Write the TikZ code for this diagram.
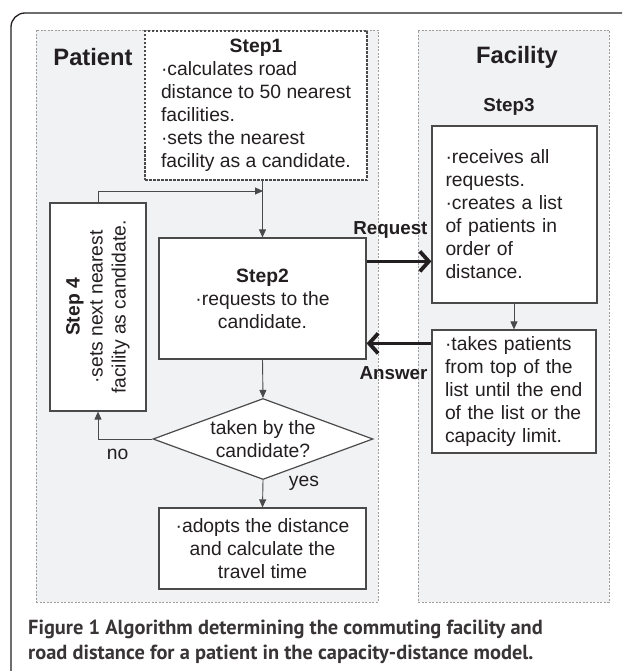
\documentclass[tikz,border=0pt]{standalone}
\usepackage{fontspec}
\usepackage{graphicx}
\setmainfont{Liberation Sans}
\newfontfamily\capfont{PT Sans}
\usetikzlibrary{shapes.geometric}
\usetikzlibrary{arrows.meta}

\definecolor{lanegray}{HTML}{F1F2F4}
\definecolor{laneline}{HTML}{9C9C9C}
\definecolor{boxline}{HTML}{4A4A4A}
\definecolor{ink}{HTML}{231F20}

\tikzset{
  txt/.style={font=\fontsize{19.3}{23}\selectfont, text=ink},
  lane/.style={draw=laneline, fill=lanegray, line width=0.8pt, dash pattern=on 2pt off 1.5pt},
  box/.style={txt, draw=boxline, fill=white, line width=1.2pt, inner sep=0pt},
  head/.style={font=\fontsize{23.7}{28}\selectfont\bfseries, text=ink},
  lbl/.style={txt, font=\fontsize{18.8}{23}\selectfont\bfseries, inner sep=2pt},
  flow/.style={draw=boxline, line width=0.9pt, -{Triangle[length=8pt,width=7pt]}},
  msg/.style={draw=ink, line width=3.8pt, -{Straight Barb[length=9pt,width=20pt]}}
}

\begin{document}
\begin{tikzpicture}[x=1pt,y=-1pt]
\clip (0,0) rectangle (622,671);
\fill[white] (0,0) rectangle (622,671);
\draw[draw=ink, line width=1.3pt, rounded corners=14pt] (11,13) rectangle (660,700);

% swim lanes
\node[lane, minimum width=342, minimum height=572] (patientlane) at (207,316) {};
\node[lane, minimum width=191, minimum height=572] (facilitylane) at (513.5,316) {};
\node[head] (patienthead) at (93,57) {Patient};
\node[head] (facilityhead) at (517,57) {Facility};

% patient side
\node[box, minimum width=222, minimum height=149, dash pattern=on 2.5pt off 1.5pt, align=left] (step1) at (256,105.5)
  {\makebox[190pt]{\bfseries Step1}\\ ·calculates road\\ distance to 50 nearest\\ facilities.\\ ·sets the nearest\\ facility as a candidate.};
\node[box, minimum width=207, minimum height=121, align=center] (step2) at (262.5,298.5)
  {\textbf{Step2}\\ ·requests to the\\ candidate.};
\node[box, minimum width=96, minimum height=208] (step4) at (98,307)
  {\rotatebox{90}{\begin{tabular}{@{}c@{}}\textbf{Step 4}\\ ·sets next nearest\\ facility as candidate.\end{tabular}}};
\node[box, diamond, aspect=2.7, minimum width=220, minimum height=81, align=center] (decide) at (263,439)
  {taken by the\\ candidate?};
\node[box, minimum width=207, minimum height=81, align=center] (adopt) at (262.5,548.5)
  {·adopts the distance\\ and calculate the\\ travel time};
\coordinate (join) at (263,191);

% facility side
\node[txt, font=\fontsize{18.8}{23}\selectfont\bfseries] (step3head) at (509,107) {Step3};
\node[box, minimum width=165, minimum height=177, text width=138pt, align=left] (step3) at (514.5,214.5)
  {·receives all\\ requests.\\ ·creates a list\\ of patients in\\ order of\\ distance.};
\node[box, minimum width=164, minimum height=123, text width=138pt, align=left] (takes) at (514,391.5)
  {·takes patients\\ from top of the\\ list until the end\\ of the list or the\\ capacity limit.};

% connectors
\draw[flow] (step2.north |- step1.south) -- (step2.north);
\draw[flow] (step4.north) |- (join);
\draw[flow] (step2.south) -- (decide.north);
\draw[flow] (decide.west) -| (step4.south) node[txt, pos=0.32, below=6pt] {no};
\draw[flow] (decide.south) -- (adopt.north) node[txt, pos=0.1, xshift=41pt] {yes};
\draw[flow] (step3.south -| takes.north) -- (takes.north);
\draw[msg] ([yshift=-24pt]step2.north east) -- ([yshift=-24pt]step2.north east -| step3.west)
  node[lbl, pos=1, anchor=base east, yshift=27pt] {Request};
\draw[msg] ([yshift=-14pt]takes.north west) -- ([yshift=-14pt]takes.north west -| step2.east)
  node[lbl, pos=0, anchor=base east, yshift=-36pt] {Answer};

% caption
\node[anchor=west, align=left, text=ink!90, font=\capfont\fontsize{20.4}{25}\selectfont\bfseries, inner sep=0pt] (caption) at (28,641.5)
  {Figure 1 Algorithm determining the commuting facility and\\ road distance for a patient in the capacity-distance model.};
\end{tikzpicture}
\end{document}
